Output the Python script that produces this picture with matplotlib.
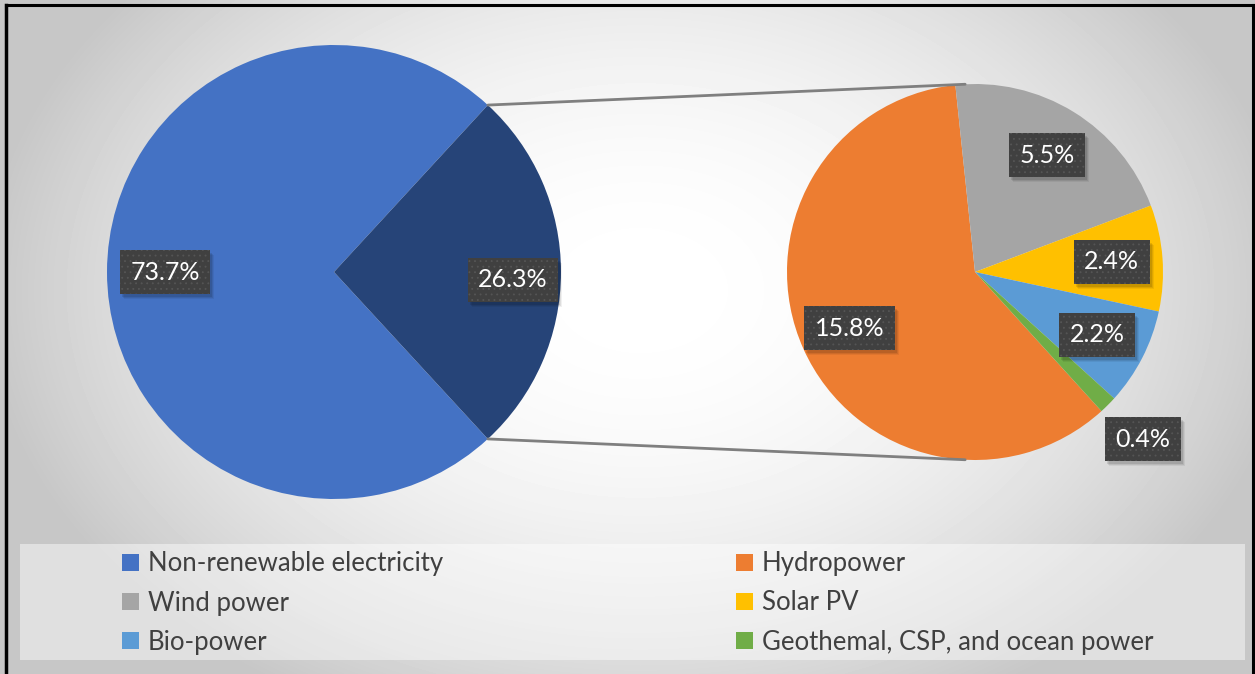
import numpy as np
import matplotlib
matplotlib.use("Agg")
import matplotlib.pyplot as plt
from matplotlib.patches import Patch, Rectangle, ConnectionPatch
from matplotlib.lines import Line2D
from matplotlib.transforms import IdentityTransform


# ==========================================================
# Data
# ==========================================================

LEFT_CATEGORIES = ["Non-renewable electricity", "Renewable electricity"]
LEFT_VALUES = [73.7, 26.3]

RIGHT_CATEGORIES = ["Hydropower", "Wind power", "Solar PV", "Bio-power",
                    "Geothemal, CSP, and ocean power"]
RIGHT_VALUES = [15.8, 5.5, 2.4, 2.2, 0.4]

LEFT_COLORS = ["#4472C4", "#264478"]
RIGHT_COLORS = ["#ED7D31", "#A5A5A5", "#FFC000", "#5B9BD5", "#70AD47"]

W, H = 1255, 674
FONT = "Lato"
TEXT_COLOR = "#404040"

plt.rcParams["hatch.linewidth"] = 0.6


def ax_rect(cx, cy, r):
    # pixel centre/radius (y from top) -> figure fraction rect
    return [(cx - r) / W, (H - cy - r) / H, 2 * r / W, 2 * r / H]


def label_box(ax, x, y, text):
    t = ax.text(x, y, text, ha="center", va="center", color="white",
                fontsize=18, family=FONT, zorder=5,
                bbox=dict(boxstyle="square,pad=0.42", fc="#404040",
                          ec="#555555", lw=0, hatch="..."))
    return t


fig = plt.figure(figsize=(W / 100, H / 100), dpi=100)

# background gradient
bg = fig.add_axes([0, 0, 1, 1], zorder=-10)
yy, xx = np.mgrid[0:H, 0:W]
r2 = ((xx - 640) / 700.0) ** 2 + ((yy - 290) / 500.0) ** 2
shade = np.clip(1.0 - 0.25 * r2, 0.78, 1.0)
bg.imshow(shade, cmap="gray", vmin=0, vmax=1, aspect="auto",
          extent=[0, W, H, 0])
bg.set_xlim(0, W)
bg.set_ylim(H, 0)
bg.axis("off")

# legend band
bg.add_patch(Rectangle((20, 544), 1225, 116, fc="white", alpha=0.45,
                       ec="none"))

# frame lines
bg.add_line(Line2D([6, 1253], [5, 5], color="black", lw=2.2))
bg.add_line(Line2D([6, 6], [5, H], color="black", lw=2.5))
bg.add_line(Line2D([1253, 1253], [5, H], color="black", lw=2.2))

labels = []

# ==========================================================
# Left pie
# ==========================================================

ax1 = fig.add_axes(ax_rect(334, 272, 227))
half = LEFT_VALUES[1] / sum(LEFT_VALUES) * 360 / 2
wedges1, _ = ax1.pie(LEFT_VALUES, colors=LEFT_COLORS, startangle=half,
                     counterclock=True,
                     wedgeprops=dict(linewidth=0))
ax1.set_xlim(-1, 1)
ax1.set_ylim(-1, 1)
ax1.axis("off")

for w, v, d, shift in zip(wedges1, LEFT_VALUES, [0.745, 0.79], [0, -2.5]):
    a = np.deg2rad((w.theta1 + w.theta2) / 2 + shift)
    labels.append(label_box(ax1, d * np.cos(a), d * np.sin(a), f"{v:.1f}%"))

# ==========================================================
# Right pie
# ==========================================================

ax2 = fig.add_axes(ax_rect(975, 272, 188))
start = 96 + RIGHT_VALUES[0] / sum(RIGHT_VALUES) * 360
wedges2, _ = ax2.pie(RIGHT_VALUES, colors=RIGHT_COLORS, startangle=start,
                     counterclock=False,
                     wedgeprops=dict(linewidth=0))
ax2.set_xlim(-1, 1)
ax2.set_ylim(-1, 1)
ax2.axis("off")

for w, v in zip(wedges2, RIGHT_VALUES):
    a = np.deg2rad((w.theta1 + w.theta2) / 2)
    d = 1.26 if v < 1 else 0.73
    labels.append(label_box(ax2, d * np.cos(a), d * np.sin(a), f"{v:.1f}%"))

# connector lines
for sign in (1, -1):
    a1 = np.deg2rad(sign * half)
    a2 = np.deg2rad(sign * 93)
    con = ConnectionPatch(xyA=(np.cos(a1), np.sin(a1)), coordsA=ax1.transData,
                          xyB=(np.cos(a2), np.sin(a2)), coordsB=ax2.transData,
                          color="#7f7f7f", lw=2)
    fig.add_artist(con)

# ==========================================================
# Legend
# ==========================================================

handles = [Patch(fc=c, ec="none") for c in LEFT_COLORS[:1] + RIGHT_COLORS]
names = LEFT_CATEGORIES[:1] + RIGHT_CATEGORIES
order = [0, 2, 4, 1, 3, 5]
leg = fig.legend([handles[i] for i in order], [names[i] for i in order],
                 ncol=2, loc="center left",
                 bbox_to_anchor=(99 / W, 1 - 603 / H),
                 frameon=False, handlelength=0.65, handleheight=0.65,
                 handletextpad=0.35, columnspacing=11.4, labelspacing=0.56,
                 prop=dict(family=FONT, size=18.5))
for t in leg.get_texts():
    t.set_color(TEXT_COLOR)

# soft drop shadows under the label boxes
fig.canvas.draw()
renderer = fig.canvas.get_renderer()
for t in labels:
    bb = t.get_bbox_patch().get_window_extent(renderer)
    for k, a in ((5, 0.06), (4, 0.08), (3, 0.1)):
        t.axes.add_patch(Rectangle((bb.x0 + k - 1, bb.y0 - k), bb.width,
                                   bb.height, fc="black", alpha=a, lw=0,
                                   transform=IdentityTransform(),
                                   clip_on=False, zorder=4))

fig.savefig("out.png", dpi=100)
